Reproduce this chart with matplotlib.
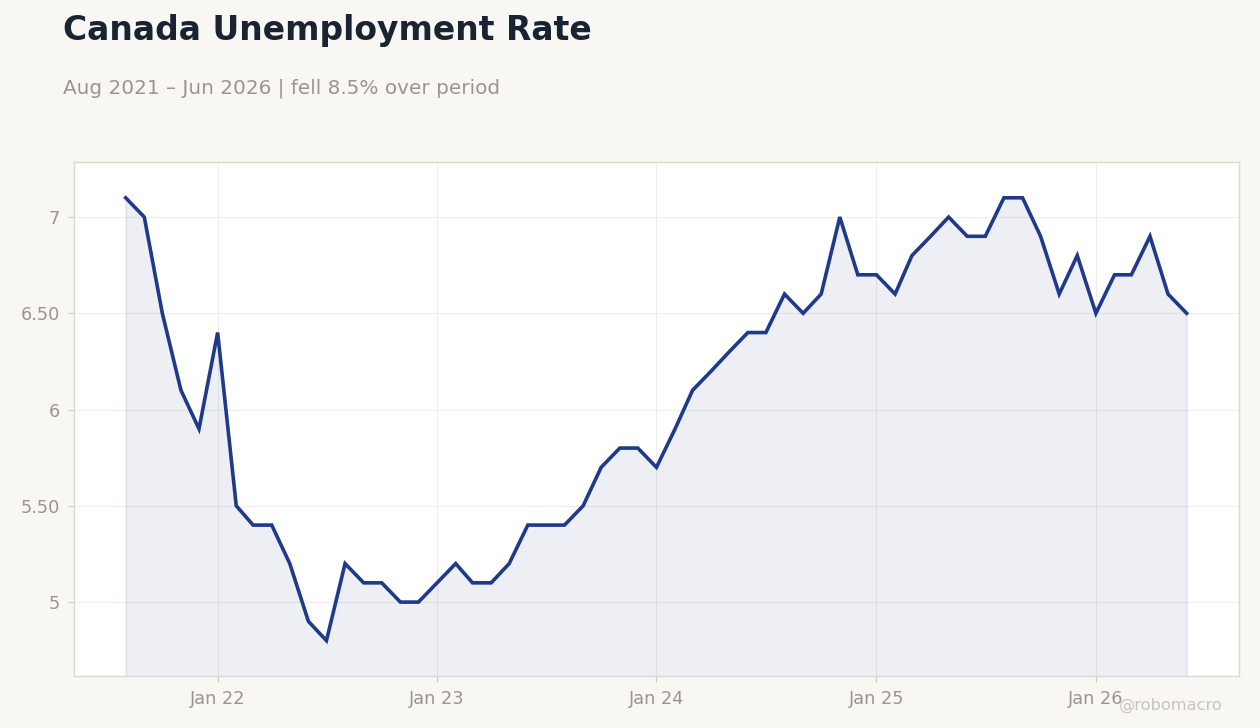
import pandas as pd
import matplotlib
matplotlib.use("Agg")
import matplotlib.pyplot as plt
import matplotlib.dates as mdates
from matplotlib.ticker import FuncFormatter

# Donnees mensuelles (taux de chomage, %)
debut = "2021-08-01"
fin = "2026-06-01"
taux = [7.1, 7.0, 6.5, 6.1, 5.9,
        6.4, 5.5, 5.4, 5.4, 5.2, 4.9, 4.8, 5.2, 5.1, 5.1, 5.0, 5.0,
        5.1, 5.2, 5.1, 5.1, 5.2, 5.4, 5.4, 5.4, 5.5, 5.7, 5.8, 5.8,
        5.7, 5.9, 6.1, 6.2, 6.3, 6.4, 6.4, 6.6, 6.5, 6.6, 7.0, 6.7,
        6.7, 6.6, 6.8, 6.9, 7.0, 6.9, 6.9, 7.1, 7.1, 6.9, 6.6, 6.8,
        6.5, 6.7, 6.7, 6.9, 6.6, 6.5]
dates = pd.date_range(debut, fin, freq="MS")

titre = "Canada Unemployment Rate"
sous_titre = "Aug 2021 \u2013 Jun 2026 | fell 8.5% over period"

fond = "#f8f7f4"
bleu = "#1f3a8a"
gris = "#9a9590"

plt.rcParams["font.family"] = ["DejaVu Sans"]

fig = plt.figure(figsize=(12.6, 7.28), dpi=100, facecolor=fond)
ax = fig.add_axes([0.0587, 0.0714, 0.9246, 0.7061])
ax.set_facecolor("white")

ax.fill_between(dates, taux, 4.0, color=bleu, alpha=0.08, linewidth=1.5)
ax.plot(dates, taux, color=bleu, linewidth=2.6, solid_joinstyle="miter")

ax.set_ylim(4.616, 7.286)
ax.set_xlim(pd.Timestamp("2021-05-07"), pd.Timestamp("2026-08-27"))

ax.xaxis.set_major_locator(mdates.YearLocator())
ax.xaxis.set_major_formatter(mdates.DateFormatter("%b %y"))
ax.set_yticks([5, 5.5, 6, 6.5, 7])
ax.yaxis.set_major_formatter(FuncFormatter(
    lambda v, p: f"{v:.0f}" if abs(v - round(v)) < 1e-9 else f"{v:.2f}"))

ax.grid(True, color="#eeeeee", linewidth=0.8)
ax.set_axisbelow(True)
for s in ax.spines.values():
    s.set_color("#ddd8d0")
    s.set_linewidth(1)
ax.tick_params(colors="#cfcac4", labelcolor=gris, labelsize=12.8, length=4, pad=6)

fig.text(0.05, 0.945, titre, fontsize=23.8, fontweight="bold", color="#1a2332", va="baseline")
fig.text(0.05, 0.872, sous_titre, fontsize=14.4, color=gris, va="baseline")
fig.text(0.97, 0.025, "@robomacro", fontsize=11.7, color="#c8c4bf", ha="right", va="baseline")

fig.savefig("out.png", dpi=100, facecolor=fond)
